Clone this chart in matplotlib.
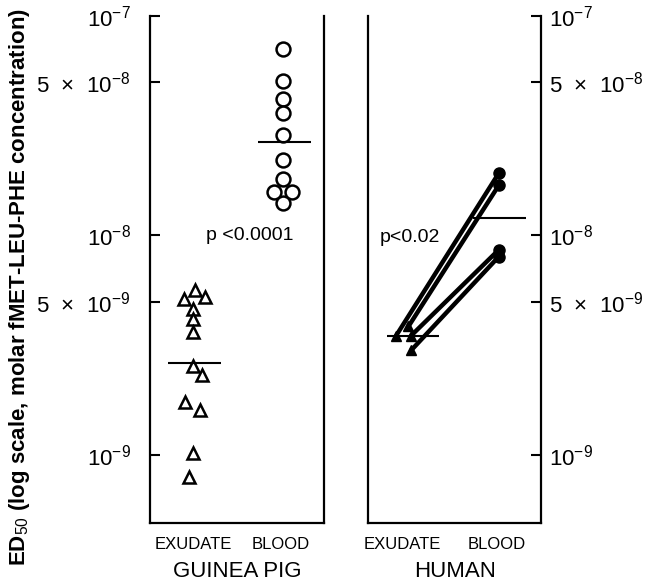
import matplotlib.pyplot as plt
import numpy as np

plt.rcParams['font.family'] = ['Liberation Sans', 'DejaVu Sans']
plt.rcParams['mathtext.fontset'] = 'custom'
plt.rcParams['mathtext.rm'] = 'Liberation Sans'
plt.rcParams['mathtext.it'] = 'Liberation Sans:italic'
plt.rcParams['mathtext.bf'] = 'Liberation Sans:bold'

# Guinea pig: ED50 values (molar)
gp_exudate = [5.66e-9, 5.26e-9, 5.15e-9, 4.64e-9, 4.18e-9, 3.65e-9,
              2.55e-9, 2.32e-9, 1.74e-9, 1.60e-9, 1.02e-9, 7.94e-10]
gp_exudate_jitter = [0.02, 0.13, -0.11, 0.0, 0.0, 0.0,
                     -0.01, 0.1, -0.1, 0.07, 0.0, -0.05]
gp_blood = [7.07e-8, 5.05e-8, 4.18e-8, 3.61e-8, 2.86e-8, 2.20e-8,
            1.80e-8, 1.57e-8, 1.57e-8, 1.40e-8]
gp_blood_jitter = [0.03, 0.03, 0.03, 0.03, 0.03, 0.03, 0.03, -0.07, 0.13, 0.03]
gp_medians = [2.63e-9, 2.66e-8]

# Human: paired exudate -> blood
hu_exudate = [3.5e-9, 3.85e-9, 3.5e-9, 3.0e-9]
hu_exudate_jitter = [-0.07, 0.06, 0.09, 0.09]
hu_blood = [1.92e-8, 1.69e-8, 8.6e-9, 8.0e-9]
hu_medians = [3.5e-9, 1.2e-8]

groups = ['EXUDATE', 'BLOOD']
yticks = [1e-9, 5e-9, 1e-8, 5e-8, 1e-7]
ytick_labels = ['$10^{-9}$', '5  ×  $10^{-9}$', '$10^{-8}$', '5  ×  $10^{-8}$', '$10^{-7}$']

fig = plt.figure(figsize=(6.49, 5.85), dpi=100)
ax1 = fig.add_axes([0.2311, 0.106, 0.268, 0.8667])
ax2 = fig.add_axes([0.567, 0.106, 0.2666, 0.8667])

for ax in (ax1, ax2):
    ax.set_yscale('log')
    ax.set_ylim(4.9e-10, 1e-7)
    ax.spines['top'].set_visible(False)
    for s in ('left', 'right', 'bottom'):
        ax.spines[s].set_linewidth(1.6)
    ax.set_xticks([1, 2])
    ax.set_xticklabels(groups, fontsize=12)
    ax.tick_params(axis='x', length=0, pad=10)
    ax.yaxis.set_minor_locator(plt.NullLocator())

# guinea pig panel
ax1.set_xlim(0.5, 2.5)
ax1.plot(1 + np.array(gp_exudate_jitter), gp_exudate, ls='none', marker='^',
         ms=8, mfc='white', mec='black', mew=1.8, clip_on=False)
ax1.plot(2 + np.array(gp_blood_jitter), gp_blood, ls='none', marker='o',
         ms=10, mfc='white', mec='black', mew=1.8, clip_on=False)
ax1.hlines(gp_medians, [0.71, 1.74], [1.32, 2.35], color='black', lw=1.5)
ax1.set_yticks(yticks)
ax1.set_yticklabels(ytick_labels, fontsize=16)
ax1.tick_params(axis='y', direction='in', length=7, width=1.5, pad=14,
                left=True, right=False)
ax1.text(1.65, 1.0e-8, 'p <0.0001', fontsize=14, ha='center', va='center')

# human panel
ax2.set_xlim(0.63, 2.47)
for ex, jit, bl in zip(hu_exudate, hu_exudate_jitter, hu_blood):
    ax2.plot([1 + jit, 2.02], [ex, bl], color='black', lw=3.2, solid_capstyle='round')
    ax2.plot(1 + jit, ex, ls='none', marker='^', ms=7, color='black')
    ax2.plot(2.02, bl, ls='none', marker='o', ms=8, color='black')
ax2.hlines(hu_medians, [0.83, 1.75], [1.38, 2.31], color='black', lw=1.5)
ax2.yaxis.tick_right()
ax2.set_yticks(yticks)
ax2.set_yticklabels(ytick_labels, fontsize=16)
ax2.tick_params(axis='y', direction='in', length=7, width=1.5, pad=6,
                left=False, right=True)
ax2.text(1.08, 0.98e-8, 'p<0.02', fontsize=14, ha='center', va='center')

fig.text(0.03, 0.51, 'ED$_{50}$ (log scale, molar fMET-LEU-PHE concentration)',
         rotation=90, ha='center', va='center', fontsize=16, fontweight='bold')
fig.text(0.365, 0.005, 'GUINEA PIG', ha='center', va='bottom', fontsize=16)
fig.text(0.701, 0.005, 'HUMAN', ha='center', va='bottom', fontsize=16)

fig.savefig('out.png', dpi=100)
